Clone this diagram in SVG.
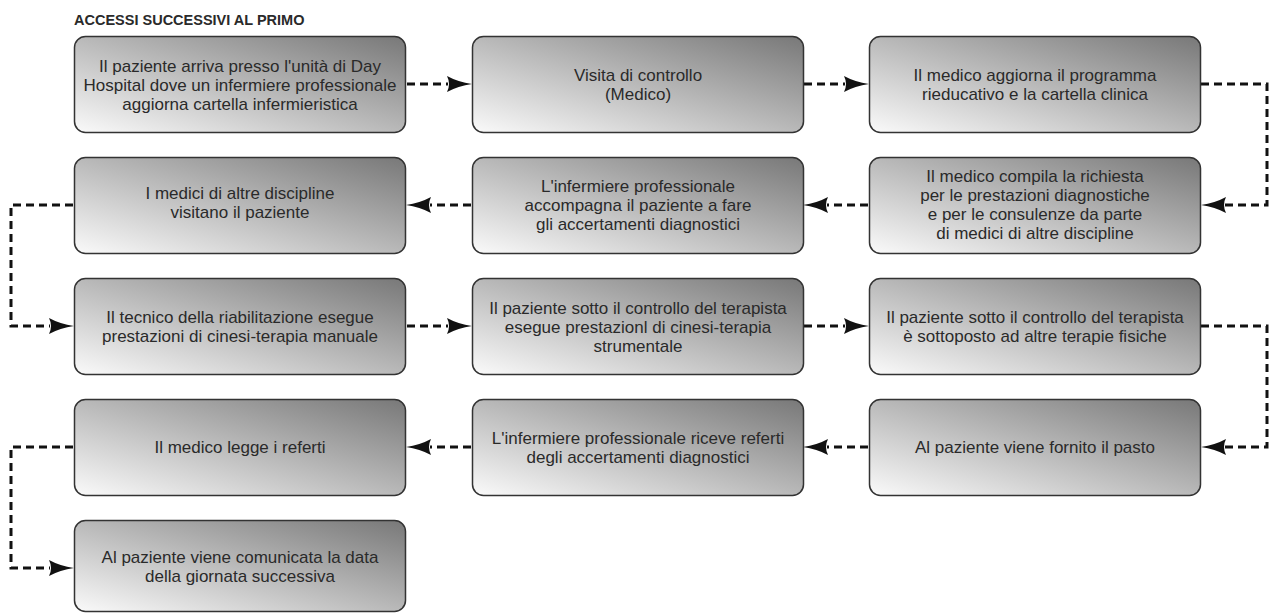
<svg xmlns="http://www.w3.org/2000/svg" width="1270" height="614" viewBox="0 0 1270 614">
<defs>
<linearGradient id="g" x1="0" y1="1" x2="1" y2="0">
<stop offset="0" stop-color="#fafafa"/>
<stop offset="1" stop-color="#787878"/>
</linearGradient>
<marker id="ah" markerUnits="userSpaceOnUse" markerWidth="28" markerHeight="20" refX="1" refY="9" orient="auto">
<path d="M0,1 Q11,7 25,9 Q11,11 0,17 Q4,9 0,1 Z" fill="#111"/>
</marker>
</defs>
<style>
.box{fill:url(#g);stroke:#333;stroke-width:1.5}
.t{font-family:"Liberation Sans",Arial,sans-serif;font-size:17px;fill:#2a2a2a;text-anchor:middle}
.title{font-family:"Liberation Sans",Arial,sans-serif;font-size:14.5px;font-weight:bold;fill:#2a2a2a}
.c{fill:none;stroke:#111;stroke-width:3;stroke-dasharray:8 5;marker-end:url(#ah)}
</style>
<text class="title" x="74" y="25">ACCESSI SUCCESSIVI AL PRIMO</text>
<g id="connectors">
<path class="c" d="M407,84 H448"/>
<path class="c" d="M804,84 H845"/>
<path class="c" d="M1201,84 H1267 V205 H1225"/>
<path class="c" d="M868,205 H827"/>
<path class="c" d="M471,205 H430"/>
<path class="c" d="M73,205 H11 V326 H50"/>
<path class="c" d="M407,326 H448"/>
<path class="c" d="M804,326 H845"/>
<path class="c" d="M1201,326 H1267 V447 H1225"/>
<path class="c" d="M868,447 H827"/>
<path class="c" d="M471,447 H430"/>
<path class="c" d="M73,447 H11 V568 H50"/>
</g>
<g id="n1"><rect class="box" x="74.5" y="36.5" width="331" height="96" rx="11"/>
<text class="t" x="240" y="72">Il paziente arriva presso l'unità di Day</text>
<text class="t" x="240" y="91">Hospital dove un infermiere professionale</text>
<text class="t" x="240" y="110">aggiorna cartella infermieristica</text></g>
<g id="n2"><rect class="box" x="472.5" y="36.5" width="331" height="96" rx="11"/>
<text class="t" x="638" y="81">Visita di controllo</text>
<text class="t" x="638" y="100">(Medico)</text></g>
<g id="n3"><rect class="box" x="869.5" y="36.5" width="331" height="96" rx="11"/>
<text class="t" x="1035" y="81">Il medico aggiorna il programma</text>
<text class="t" x="1035" y="100">rieducativo e la cartella clinica</text></g>
<g id="n4"><rect class="box" x="869.5" y="157.5" width="331" height="96" rx="11"/>
<text class="t" x="1035" y="182">Il medico compila la richiesta</text>
<text class="t" x="1035" y="201">per le prestazioni diagnostiche</text>
<text class="t" x="1035" y="220">e per le consulenze da parte</text>
<text class="t" x="1035" y="239">di medici di altre discipline</text></g>
<g id="n5"><rect class="box" x="472.5" y="157.5" width="331" height="96" rx="11"/>
<text class="t" x="638" y="192">L'infermiere professionale</text>
<text class="t" x="638" y="211">accompagna il paziente a fare</text>
<text class="t" x="638" y="230">gli accertamenti diagnostici</text></g>
<g id="n6"><rect class="box" x="74.5" y="157.5" width="331" height="96" rx="11"/>
<text class="t" x="240" y="199">I medici di altre discipline</text>
<text class="t" x="240" y="218">visitano il paziente</text></g>
<g id="n7"><rect class="box" x="74.5" y="278.5" width="331" height="96" rx="11"/>
<text class="t" x="240" y="323">Il tecnico della riabilitazione esegue</text>
<text class="t" x="240" y="342">prestazioni di cinesi-terapia manuale</text></g>
<g id="n8"><rect class="box" x="472.5" y="278.5" width="331" height="96" rx="11"/>
<text class="t" x="638" y="314">Il paziente sotto il controllo del terapista</text>
<text class="t" x="638" y="333">esegue prestazionl di cinesi-terapia</text>
<text class="t" x="638" y="352">strumentale</text></g>
<g id="n9"><rect class="box" x="869.5" y="278.5" width="331" height="96" rx="11"/>
<text class="t" x="1035" y="323">Il paziente sotto il controllo del terapista</text>
<text class="t" x="1035" y="342">è sottoposto ad altre terapie fisiche</text></g>
<g id="n10"><rect class="box" x="869.5" y="399.5" width="331" height="96" rx="11"/>
<text class="t" x="1035" y="453">Al paziente viene fornito il pasto</text></g>
<g id="n11"><rect class="box" x="472.5" y="399.5" width="331" height="96" rx="11"/>
<text class="t" x="638" y="444">L'infermiere professionale riceve referti</text>
<text class="t" x="638" y="463">degli accertamenti diagnostici</text></g>
<g id="n12"><rect class="box" x="74.5" y="399.5" width="331" height="96" rx="11"/>
<text class="t" x="240" y="453">Il medico legge i referti</text></g>
<g id="n13"><rect class="box" x="74.5" y="520.5" width="331" height="91" rx="11"/>
<text class="t" x="240" y="563">Al paziente viene comunicata la data</text>
<text class="t" x="240" y="582">della giornata successiva</text></g>
</svg>
